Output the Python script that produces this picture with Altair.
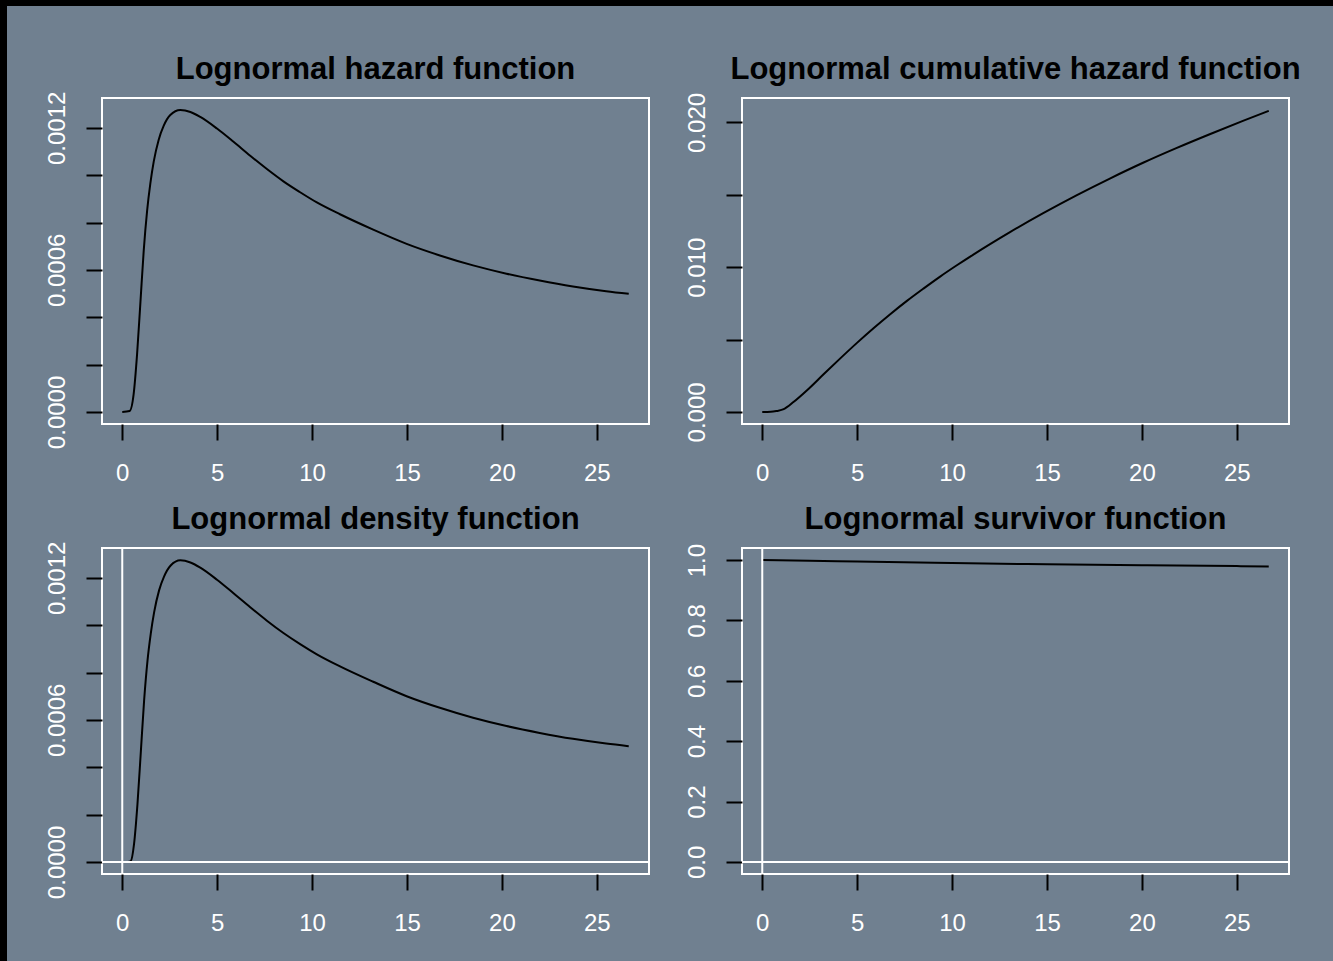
import altair as alt
import pandas as pd

# ---------------- data ----------------
x_ticks = [0, 5, 10, 15, 20, 25]

haz_t = [0, 0.39, 0.60, 0.78, 0.96, 1.13, 1.31, 1.48, 1.66, 1.92, 2.18, 2.53, 3.06,
         3.59, 4.11, 4.99, 5.86, 6.74, 7.62, 8.49, 9.37, 10.25, 11.47, 13.22,
         14.98, 16.73, 18.48, 20.24, 21.99, 23.74, 25.49, 26.68]
haz_v = [0, 0.000004, 0.000075, 0.000243, 0.000467, 0.000680, 0.000850, 0.000965,
         0.001058, 0.001150, 0.001208, 0.001254, 0.001275, 0.001267, 0.001246, 0.001197,
         0.001141, 0.001082, 0.001026, 0.000974, 0.000928, 0.000885, 0.000835, 0.000770,
         0.000710, 0.000661, 0.000619, 0.000584, 0.000555, 0.000530, 0.000510, 0.000499]

cum_t = [0, 0.45, 0.78, 1.13, 1.66, 2.36, 3.23, 4.11, 4.99, 5.86, 6.74, 7.62, 8.49, 9.37,
         10.25, 11.12, 12.0, 13.05, 14.80, 16.55, 18.31, 20.06, 21.81, 23.57, 25.32, 26.68]
cum_v = [0, 0.000005, 0.00007, 0.00019, 0.00070, 0.00150, 0.00260, 0.00370, 0.00477,
         0.00578, 0.00675, 0.00767, 0.00852, 0.00935, 0.01013, 0.01087, 0.01159, 0.01242,
         0.01373, 0.01496, 0.01612, 0.01721, 0.01822, 0.01918, 0.02010, 0.02080]

den_t = [0.29, 0.45, 0.62, 0.80, 0.98, 1.15, 1.33, 1.50, 1.68, 1.94, 2.20, 2.55, 3.06,
         3.59, 4.11, 4.99, 5.86, 6.74, 7.62, 8.49, 9.37, 10.25, 11.47, 13.22,
         14.98, 16.73, 18.48, 20.24, 21.99, 23.74, 25.49, 26.68]
den_v = [0, 0.000004, 0.000075, 0.000243, 0.000467, 0.000680, 0.000850, 0.000963,
         0.001055, 0.001147, 0.001205, 0.001252, 0.001274, 0.001265, 0.001243, 0.001192,
         0.001135, 0.001076, 0.001019, 0.000967, 0.000920, 0.000877, 0.000826, 0.000761,
         0.000700, 0.000651, 0.000609, 0.000574, 0.000545, 0.000520, 0.000500, 0.000489]

surv_t = [0, 2.5, 5, 10, 15, 20, 25, 26.68]
surv_v = [1.0, 0.998, 0.995, 0.990, 0.986, 0.983, 0.980, 0.979]

haz_ticks = [0.0, 0.0002, 0.0004, 0.0006, 0.0008, 0.0010, 0.0012]
cum_ticks = [0.0, 0.005, 0.010, 0.015, 0.020]
surv_ticks = [0.0, 0.2, 0.4, 0.6, 0.8, 1.0]

X_DOM = [-1.067, 27.747]
HAZ_DOM = [-0.000051, 0.001326]
CUM_DOM = [-0.000834, 0.021684]
SURV_DOM = [-0.04, 1.04]

BG = "#708090"
FONT = "Liberation Sans"
PW, PH = 547, 326


def make_panel(t, v, title, ydom, yvals, lexpr, offset, ablines=False):
    df = pd.DataFrame({"t": t, "v": v})
    xs = alt.Scale(domain=X_DOM, nice=False, zero=False)
    ys = alt.Scale(domain=ydom, nice=False, zero=False)
    xax = alt.Axis(values=x_ticks, format="d", title=None)
    yax = alt.Axis(values=yvals, labelExpr=lexpr, title=None)
    line = alt.Chart(df).mark_line(
        color="black", strokeWidth=2, interpolate="monotone"
    ).encode(
        x=alt.X("t:Q", scale=xs, axis=xax),
        y=alt.Y("v:Q", scale=ys, axis=yax),
    )
    layers = [line]
    if ablines:
        vr = alt.Chart(pd.DataFrame({"t": [0.0]})).mark_rule(
            color="white", strokeWidth=2
        ).encode(x=alt.X("t:Q", scale=xs, axis=xax))
        hr = alt.Chart(pd.DataFrame({"v": [0.0]})).mark_rule(
            color="white", strokeWidth=2
        ).encode(y=alt.Y("v:Q", scale=ys, axis=yax))
        layers += [vr, hr]
    return alt.layer(*layers).properties(
        width=PW,
        height=PH,
        title=alt.TitleParams(
            text=title, fontSize=31, font=FONT, fontWeight="bold", color="black",
            anchor="middle", frame="group", baseline="alphabetic", offset=offset,
        ),
    )


def strip(w, h, fill, px, py):
    return alt.Chart(pd.DataFrame({"a": [0]})).mark_point(opacity=0, size=1).encode(
        x=alt.value(px), y=alt.value(py)
    ).properties(width=w, height=h,
                 view=alt.ViewBackground(fill=fill, stroke=fill, strokeWidth=0))


haz_expr = "round(datum.value*10000) % 6 == 0 ? format(datum.value, '.4f') : ''"
cum_expr = "round(datum.value*1000) % 10 == 0 ? format(datum.value, '.3f') : ''"
surv_expr = "format(datum.value, '.1f')"

p1 = make_panel(haz_t, haz_v, "Lognormal hazard function", HAZ_DOM, haz_ticks, haz_expr, -18.5)
p2 = make_panel(cum_t, cum_v, "Lognormal cumulative hazard function", CUM_DOM, cum_ticks, cum_expr, -17.2)
p3 = make_panel(den_t, den_v, "Lognormal density function", HAZ_DOM, haz_ticks, haz_expr, -18.5, True)
p4 = make_panel(surv_t, surv_v, "Lognormal survivor function", SURV_DOM, surv_ticks, surv_expr, -16.2, True)

grid = alt.concat(p1, p2, p3, p4, columns=2, spacing={"row": 124, "column": 93}, bounds="flush")
inner = alt.vconcat(strip(1, 92, "transparent", 0, 46), grid, spacing=0, bounds="flush")
row = alt.hconcat(strip(7, 955, "black", 3, 400), inner, spacing=95, bounds="flush")
chart = alt.vconcat(strip(1333, 6, "black", 600, 3), row, spacing=0, bounds="flush").properties(
    background=BG, padding=0
).configure_view(
    stroke="white", strokeWidth=2
).configure_axis(
    domain=False, grid=False, tickColor="black", tickWidth=2, tickSize=16,
    labelColor="white", labelFont=FONT, labelFontSize=24,
    labelFlush=False, labelOverlap=False,
).configure_axisX(
    labelPadding=40, labelBaseline="alphabetic", labelAngle=0, labelAlign="center",
).configure_axisY(
    labelPadding=22, labelAngle=270, labelAlign="center", labelBaseline="alphabetic",
)

chart.save("out.html", embed_options={"renderer": "svg", "actions": False})
